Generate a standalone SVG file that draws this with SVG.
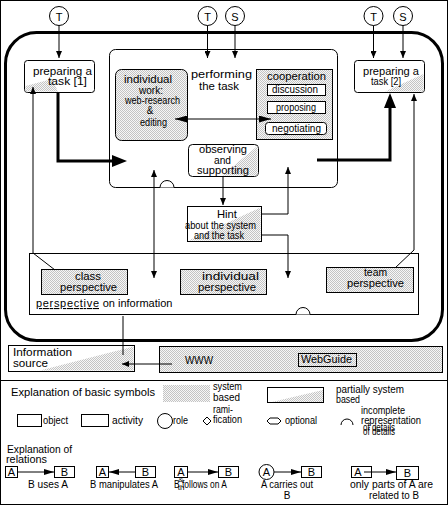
<svg xmlns="http://www.w3.org/2000/svg" width="448" height="505" viewBox="0 0 448 505">
<style>
.t{font-family:"Liberation Sans",Arial,sans-serif;font-size:10px;fill:#000}
.l{font-size:11px}
.c{text-anchor:middle}
.bx{fill:#fff;stroke:#000;stroke-width:1}
.sy{fill:url(#dith);stroke:#000;stroke-width:1}
.pt{fill:url(#dith);stroke:none}
.ln{fill:none;stroke:#000;stroke-width:1}
.th{fill:none;stroke:#000;stroke-width:3}
</style>
<defs>
<pattern id="dith" width="2" height="2" patternUnits="userSpaceOnUse">
<rect width="2" height="2" fill="#f7f7f7"/>
<rect width="1" height="1" fill="#c4c4c4"/>
<rect x="1" y="1" width="1" height="1" fill="#c4c4c4"/>
</pattern>
<marker id="as" viewBox="0 -3 7 6" refX="7" refY="0" markerWidth="7" markerHeight="6" markerUnits="userSpaceOnUse" orient="auto-start-reverse"><path d="M0,-3 L7,0 L0,3 z" fill="#000"/></marker>
<marker id="am" viewBox="0 -3.5 12 7" refX="12" refY="0" markerWidth="12" markerHeight="7" markerUnits="userSpaceOnUse" orient="auto-start-reverse"><path d="M0,-3.5 L12,0 L0,3.5 z" fill="#000"/></marker>
<marker id="ar" viewBox="0 -3 10 6" refX="10" refY="0" markerWidth="10" markerHeight="6" markerUnits="userSpaceOnUse" orient="auto-start-reverse"><path d="M0,-3 L10,0 L0,3 z" fill="#000"/></marker>
<marker id="ab" viewBox="0 -6 15 12" refX="1" refY="0" markerWidth="15" markerHeight="12" markerUnits="userSpaceOnUse" orient="auto"><path d="M0,-6 L15,0 L0,6 z" fill="#000"/></marker>
</defs>
<rect x="0.5" y="0.5" width="447" height="504" fill="#fff" stroke="#000"/>
<line x1="0" y1="380.5" x2="448" y2="380.5" stroke="#000"/>
<rect id="frame" x="5.5" y="32.5" width="437" height="308" rx="31" fill="none" stroke="#000" stroke-width="3"/>

<g id="role-T1"><circle cx="59" cy="16" r="9.5" class="bx"/><text x="59" y="20.5" class="t l c">T</text></g>
<g id="role-T2"><circle cx="207.5" cy="16" r="9.5" class="bx"/><text x="207.5" y="20.5" class="t l c">T</text></g>
<g id="role-S1"><circle cx="235" cy="16" r="9.5" class="bx"/><text x="235" y="20.5" class="t l c">S</text></g>
<g id="role-T3"><circle cx="373.5" cy="16" r="9.5" class="bx"/><text x="373.5" y="20.5" class="t l c">T</text></g>
<g id="role-S2"><circle cx="403" cy="16" r="9.5" class="bx"/><text x="403" y="20.5" class="t l c">S</text></g>

<g id="prep1"><rect x="24.5" y="60.5" width="70" height="32" rx="3" class="bx"/><polygon points="25.5,91.5 25.5,86 52,79 58,91.5" class="pt"/><text x="33" y="75" class="t" textLength="59" lengthAdjust="spacingAndGlyphs">preparing a</text><text x="48" y="85" class="t" textLength="39" lengthAdjust="spacingAndGlyphs">task [1]</text></g>
<g id="prep2"><rect x="354.5" y="60.5" width="70" height="32" rx="3" class="bx"/><polygon points="385,91.5 423.5,91.5 423.5,74" class="pt"/><text x="363" y="75" class="t" textLength="56" lengthAdjust="spacingAndGlyphs">preparing a</text><text x="371" y="85" class="t" textLength="30" lengthAdjust="spacingAndGlyphs">task [2]</text></g>

<g id="performing"><rect x="109.5" y="49.5" width="228" height="138" rx="6" class="bx"/><path d="M160,187.5 A7,7 0 0 1 174,187.5" class="bx"/><text x="191" y="78" class="t l" textLength="61" lengthAdjust="spacingAndGlyphs">performing</text><text x="199" y="90" class="t l" textLength="40" lengthAdjust="spacingAndGlyphs">the task</text></g>
<g id="individual-work"><rect x="115.5" y="69.5" width="72" height="71" rx="6" class="sy"/><text x="124" y="83" class="t" textLength="48" lengthAdjust="spacingAndGlyphs">individual</text><text x="139" y="94" class="t" textLength="24" lengthAdjust="spacingAndGlyphs">work:</text><text x="125" y="104" class="t" textLength="55" lengthAdjust="spacingAndGlyphs">web-research</text><text x="150" y="114" class="t c">&amp;</text><text x="140" y="126" class="t" textLength="27" lengthAdjust="spacingAndGlyphs">editing</text></g>
<g id="cooperation"><rect x="256.5" y="69.5" width="76" height="70" class="sy"/><text x="267" y="80" class="t" textLength="59" lengthAdjust="spacingAndGlyphs">cooperation</text>
<rect x="267.5" y="84.5" width="58" height="11" class="bx"/><text x="272" y="93" class="t" textLength="46" lengthAdjust="spacingAndGlyphs">discussion</text>
<rect x="267.5" y="101.5" width="58" height="12" class="bx"/><text x="276" y="111" class="t" textLength="40" lengthAdjust="spacingAndGlyphs">proposing</text>
<rect x="265.5" y="122.5" width="61" height="12" rx="3" class="bx"/><text x="272" y="132" class="t" textLength="49" lengthAdjust="spacingAndGlyphs">negotiating</text></g>
<g id="observing"><rect x="188.5" y="144.5" width="70" height="32" rx="4" class="bx"/><polygon points="222,175.5 257.5,175.5 257.5,146" class="pt"/><text x="199" y="153" class="t" textLength="48" lengthAdjust="spacingAndGlyphs">observing</text><text x="214" y="164" class="t" textLength="17" lengthAdjust="spacingAndGlyphs">and</text><text x="197" y="174" class="t" textLength="52" lengthAdjust="spacingAndGlyphs">supporting</text></g>
<g id="hint"><rect x="187.5" y="206.5" width="74" height="35" class="bx"/><polygon points="188.5,240.5 260.5,240.5 260.5,207.5" class="pt"/><text x="217" y="218" class="t l" textLength="20" lengthAdjust="spacingAndGlyphs">Hint</text><text x="185" y="229" class="t" textLength="71" lengthAdjust="spacingAndGlyphs">about the system</text><text x="194" y="239" class="t" textLength="50" lengthAdjust="spacingAndGlyphs">and the task</text></g>

<g id="perspective"><rect x="29.5" y="253.5" width="389" height="61" class="bx"/><path d="M296,314.5 A7,7 0 0 1 310,314.5" class="bx"/><text x="36" y="307" class="t l"><tspan text-decoration="underline" textLength="63"> perspective</tspan><tspan> on information</tspan></text></g>
<g id="class-perspective"><rect x="41.5" y="269.5" width="86" height="25" class="sy"/><text x="75" y="280" class="t" textLength="26" lengthAdjust="spacingAndGlyphs">class</text><text x="60" y="291" class="t" textLength="57" lengthAdjust="spacingAndGlyphs">perspective</text></g>
<g id="individual-perspective"><rect x="180.5" y="269.5" width="86" height="25" class="sy"/><text x="202" y="280" class="t" textLength="57" lengthAdjust="spacingAndGlyphs">individual</text><text x="198" y="291" class="t" textLength="58" lengthAdjust="spacingAndGlyphs">perspective</text></g>
<g id="team-perspective"><rect x="326.5" y="267.5" width="87" height="25" class="sy"/><text x="364" y="276" class="t" textLength="23" lengthAdjust="spacingAndGlyphs">team</text><text x="347" y="287" class="t" textLength="57" lengthAdjust="spacingAndGlyphs">perspective</text></g>

<g id="information-source"><rect x="8.5" y="345.5" width="126" height="26" class="bx"/><polygon points="40,370.5 133.5,370.5 133.5,346.5" class="pt"/><text x="13" y="356" class="t l" textLength="59" lengthAdjust="spacingAndGlyphs">Information</text><text x="13" y="367" class="t l" textLength="35" lengthAdjust="spacingAndGlyphs">source</text></g>
<g id="www"><rect x="159.5" y="346.5" width="283" height="26" class="sy"/><text x="185" y="364" class="t" textLength="28" lengthAdjust="spacingAndGlyphs">WWW</text><rect x="298.5" y="353.5" width="58" height="13" class="sy"/><text x="301" y="363" class="t" textLength="51" lengthAdjust="spacingAndGlyphs">WebGuide</text></g>

<g id="connectors">
<line x1="59" y1="25.5" x2="59" y2="58" class="ln" marker-end="url(#as)"/>
<line x1="207.5" y1="25.5" x2="207.5" y2="58" class="ln" marker-end="url(#as)"/>
<line x1="235" y1="25.5" x2="235" y2="58" class="ln" marker-end="url(#as)"/>
<line x1="373.5" y1="25.5" x2="373.5" y2="58" class="ln" marker-end="url(#as)"/>
<line x1="403" y1="25.5" x2="403" y2="58" class="ln" marker-end="url(#as)"/>
<polyline points="58,92 58,161 113,161" class="th" marker-end="url(#ab)"/>
<polyline points="317,160 390,160 390,107" class="th" marker-end="url(#ab)"/>
<line x1="175" y1="119" x2="271" y2="119" class="ln" stroke-width="1.5" marker-start="url(#am)" marker-end="url(#am)"/>
<line x1="154" y1="170" x2="154" y2="278" class="ln" marker-start="url(#as)" marker-end="url(#as)"/>
<line x1="223" y1="176" x2="223" y2="205" class="ln" marker-end="url(#as)"/>
<polyline points="261,214 288,214 288,167" class="ln" marker-end="url(#as)"/>
<polyline points="261,235 288,235 288,278" class="ln" marker-end="url(#as)"/>
<polyline points="55,270 33,253 33,87" class="ln" marker-end="url(#as)"/>
<polyline points="395,268 414,250 414,94" class="ln" marker-end="url(#as)"/>
<line x1="123" y1="316" x2="123" y2="355" class="ln"/>
<line x1="172" y1="364" x2="122" y2="364" class="ln" marker-end="url(#as)"/>
</g>

<g id="legend-symbols">
<text x="11" y="396" class="t l" textLength="144" lengthAdjust="spacingAndGlyphs">Explanation of basic symbols</text>
<rect x="163" y="385" width="47" height="17" class="pt"/>
<text x="213" y="390" class="t" textLength="29" lengthAdjust="spacingAndGlyphs">system</text><text x="213" y="401" class="t" textLength="27" lengthAdjust="spacingAndGlyphs">based</text>
<rect x="267.5" y="387.5" width="56" height="15" class="bx"/><polygon points="272,402 323,402 323,390" class="pt"/>
<text x="336" y="393" class="t" textLength="68" lengthAdjust="spacingAndGlyphs">partially system</text><text x="336" y="403" class="t" textLength="24" lengthAdjust="spacingAndGlyphs">based</text>
<rect x="17.5" y="414.5" width="24" height="12" class="bx"/><text x="43" y="424" class="t" textLength="25" lengthAdjust="spacingAndGlyphs">object</text>
<rect x="81.5" y="414.5" width="27" height="12" class="bx"/><text x="112" y="424" class="t" textLength="31" lengthAdjust="spacingAndGlyphs">activity</text>
<circle cx="165" cy="421" r="7.5" class="bx"/><text x="173" y="424" class="t" textLength="15" lengthAdjust="spacingAndGlyphs">role</text>
<polygon points="207,417 211,421 207,425 203,421" class="bx"/>
<text x="213" y="413" class="t" textLength="20" lengthAdjust="spacingAndGlyphs">rami-</text><text x="213" y="423" class="t" textLength="29" lengthAdjust="spacingAndGlyphs">fication</text>
<polygon points="267,421 270,418 278,418 281,421 278,424 270,424" class="bx"/><text x="285" y="424" class="t" textLength="32" lengthAdjust="spacingAndGlyphs">optional</text>
<path d="M341,425 A6,6 0 0 1 353,425" class="ln" stroke-width="1.5"/>
<text x="361" y="414" class="t" textLength="44" lengthAdjust="spacingAndGlyphs">incomplete</text>
<text x="361" y="424" class="t" textLength="60" lengthAdjust="spacingAndGlyphs">representation</text>
<text x="363" y="431" class="t" textLength="32" lengthAdjust="spacingAndGlyphs">of details</text>
<text x="363" y="435" class="t" textLength="32" lengthAdjust="spacingAndGlyphs">of details</text>
</g>

<g id="legend-relations">
<text x="7" y="453" class="t l" textLength="65" lengthAdjust="spacingAndGlyphs">Explanation of</text>
<text x="6" y="463" class="t l" textLength="41" lengthAdjust="spacingAndGlyphs">relations</text>
<rect x="5.5" y="466.5" width="12" height="11" class="bx"/><text x="11.5" y="476" class="t l c">A</text>
<rect x="54.5" y="466.5" width="20" height="11" class="bx"/><text x="64.5" y="476" class="t l c">B</text>
<line x1="17.5" y1="472" x2="54" y2="472" class="ln" marker-end="url(#ar)"/>
<text x="28" y="488" class="t" textLength="40" lengthAdjust="spacingAndGlyphs">B uses A</text>
<rect x="96.5" y="466.5" width="12" height="11" class="bx"/><text x="102.5" y="476" class="t l c">A</text>
<rect x="135.5" y="466.5" width="20" height="11" class="bx"/><text x="145.5" y="476" class="t l c">B</text>
<line x1="135" y1="472" x2="109" y2="472" class="ln" marker-end="url(#ar)"/>
<text x="90" y="488" class="t" textLength="68" lengthAdjust="spacingAndGlyphs">B manipulates A</text>
<rect x="174.5" y="466.5" width="13" height="11" class="bx"/><text x="181" y="476" class="t l c">A</text>
<rect x="218.5" y="466.5" width="20" height="11" class="bx"/><text x="228.5" y="476" class="t l c">B</text>
<line x1="188" y1="472" x2="218" y2="472" class="ln" marker-end="url(#ar)"/>
<text x="174" y="488" class="t" textLength="53" lengthAdjust="spacingAndGlyphs">B follows on A</text>
<text x="181" y="482" class="t c" style="font-size:8px">&amp;</text>
<text x="181" y="490" class="t c" style="font-size:8px">th</text>
<circle cx="266.5" cy="472" r="7.5" class="bx"/><text x="266.5" y="476" class="t l c">A</text>
<rect x="301.5" y="466.5" width="20" height="11" class="bx"/><text x="311.5" y="476" class="t l c">B</text>
<line x1="274" y1="472" x2="301" y2="472" class="ln" marker-end="url(#ar)"/>
<text x="261" y="488" class="t" textLength="52" lengthAdjust="spacingAndGlyphs">A carries out</text>
<text x="287" y="499" class="t c">B</text>
<rect x="351.5" y="466.5" width="20" height="11" class="bx"/><text x="358" y="476" class="t l c">A</text>
<rect x="396.5" y="466.5" width="22" height="13" class="bx"/><text x="407.5" y="477" class="t l c">B</text>
<line x1="364" y1="472" x2="396" y2="472" class="ln" marker-end="url(#ar)"/>
<text x="350" y="488" class="t" textLength="83" lengthAdjust="spacingAndGlyphs">only parts of A are</text>
<text x="369" y="499" class="t" textLength="50" lengthAdjust="spacingAndGlyphs">related to B</text>
</g>
</svg>
